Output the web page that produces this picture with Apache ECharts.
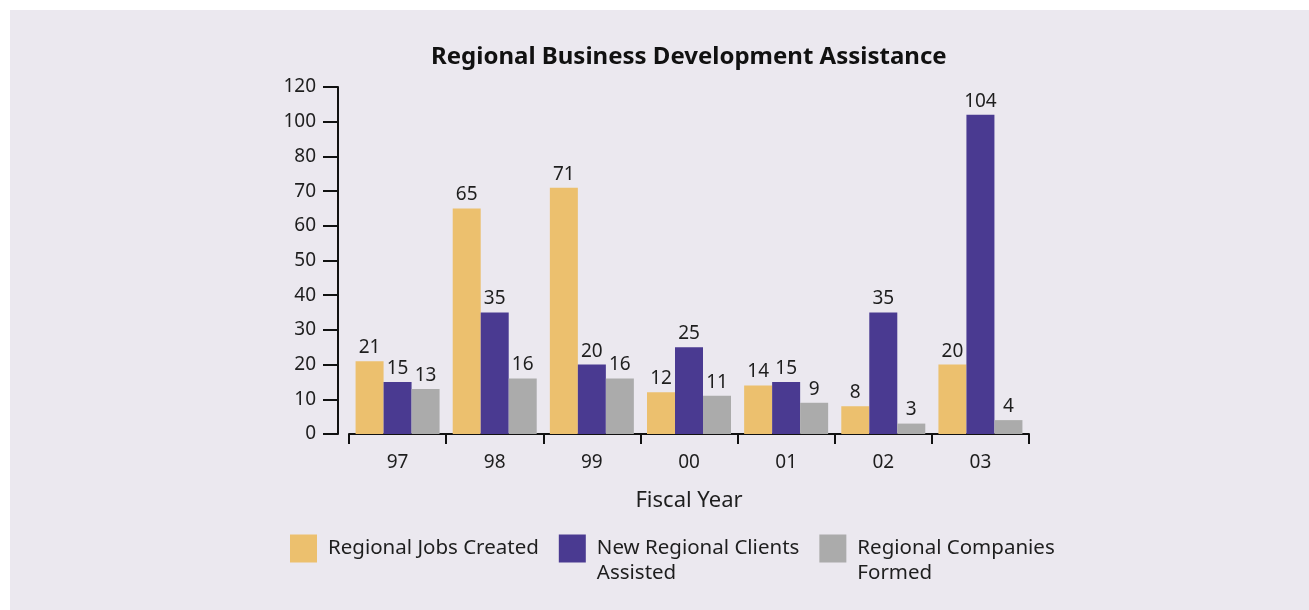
<!DOCTYPE html>
<html>
<head>
<meta charset="utf-8">
<script src="https://cdn.jsdelivr.net/npm/echarts@6/dist/echarts.min.js"></script>
<style>
html,body{margin:0;padding:0;background:#ffffff;}
#wrap{position:absolute;left:10px;top:10px;width:1299px;height:600px;background:#ebe8ef;}
#chart{position:absolute;left:-10px;top:-10px;width:1309px;height:610px;}
</style>
</head>
<body>
<div id="wrap"><div id="chart"></div></div>
<script>
const categories = ["97", "98", "99", "00", "01", "02", "03"];
const jobsCreated = [21, 65, 71, 12, 14, 8, 20];
const clientsAssisted = [15, 35, 20, 25, 15, 35, 104];
const companiesFormed = [13, 16, 16, 11, 9, 3, 4];
const yTickLabels = ["0", "10", "20", "30", "40", "50", "60", "70", "80", "100", "120"];
const seriesNames = ["Regional Jobs Created", "New Regional Clients Assisted", "Regional Companies Formed"];
// blank first line keeps the first text line centred on the legend swatch
const legendLabels = ["\u00a0\nRegional Jobs Created\n\u00a0", "\u00a0\nNew Regional Clients\nAssisted", "\u00a0\nRegional Companies\nFormed"];

// piecewise axis: each tick step is one unit; steps of 10 up to 80, then steps of 20
const tickValues = yTickLabels.map(Number);
function toAxis(v) {
  for (let i = 1; i < tickValues.length; i++) {
    if (v <= tickValues[i]) {
      return (i - 1) + (v - tickValues[i - 1]) / (tickValues[i] - tickValues[i - 1]);
    }
  }
  return tickValues.length - 1;
}

const FONT = "Noto Sans";
const TXT = "#1e1e1e";
const colors = ["#ecc06e", "#4a3a91", "#ababab"];
const raw = [jobsCreated, clientsAssisted, companiesFormed];

const chart = echarts.init(document.getElementById('chart'), null, {renderer: 'canvas'});
chart.setOption({
  backgroundColor: 'transparent',
  animation: false,
  textStyle: {fontFamily: FONT},
  title: {
    text: "Regional Business Development Assistance",
    left: 431,
    top: 45,
    padding: 0,
    textStyle: {fontFamily: FONT, fontSize: 24, fontWeight: 'bold', color: '#111'}
  },
  legend: {
    left: 290,
    top: 511,
    padding: 0,
    itemWidth: 27,
    itemHeight: 28,
    itemGap: 20,
    icon: 'rect',
    data: seriesNames,
    formatter: function (name) { return legendLabels[seriesNames.indexOf(name)]; },
    textStyle: {fontFamily: FONT, fontSize: 20.5, color: TXT, lineHeight: 25, padding: [0, 0, 0, 6]}
  },
  grid: {left: 349, right: 280, top: 87, bottom: 176, containLabel: false},
  xAxis: {
    type: 'category',
    data: categories,
    name: 'Fiscal Year',
    nameLocation: 'middle',
    nameGap: 56,
    nameTextStyle: {fontFamily: FONT, fontSize: 22, color: TXT},
    axisLine: {lineStyle: {color: '#111', width: 2}},
    axisTick: {show: true, length: 10, lineStyle: {color: '#111', width: 2}},
    axisLabel: {fontFamily: FONT, fontSize: 19, color: TXT, margin: 19}
  },
  yAxis: {
    type: 'value',
    min: 0,
    max: tickValues.length - 1,
    interval: 1,
    offset: 11,
    axisLine: {show: true, lineStyle: {color: '#111', width: 2}},
    axisTick: {show: true, length: 15, lineStyle: {color: '#111', width: 2}},
    splitLine: {show: false},
    axisLabel: {
      fontFamily: FONT, fontSize: 19, color: TXT, margin: 22,
      formatter: function (v) { return yTickLabels[Math.round(v)]; }
    }
  },
  series: seriesNames.map(function (name, s) {
    return {
      name: name,
      type: 'bar',
      barWidth: 28,
      barGap: '0%',
      itemStyle: {color: colors[s]},
      label: {
        show: true,
        position: 'top',
        distance: 4,
        fontFamily: FONT,
        fontSize: 19,
        color: TXT,
        formatter: function (p) { return String(raw[s][p.dataIndex]); }
      },
      data: raw[s].map(toAxis)
    };
  })
});
</script>
</body>
</html>
